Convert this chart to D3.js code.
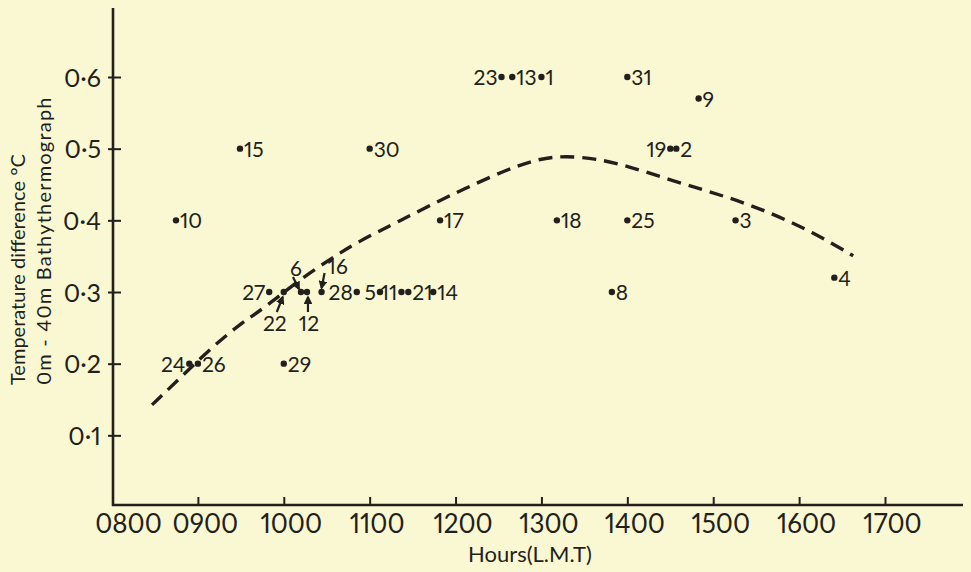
<!DOCTYPE html>
<html>
<head>
<meta charset="utf-8">
<script src="https://cdn.jsdelivr.net/npm/d3@7"></script>
<style>
  html, body { margin: 0; padding: 0; background: #faf7d3; }
  svg { display: block; }
  text { font-family: Lato, "Open Sans", sans-serif; fill: #231f1c;
         font-variant-numeric: proportional-nums; font-feature-settings: "pnum" 1; }
</style>
</head>
<body>
<svg id="chart" width="971" height="572"></svg>
<script>
// ---- data ----
const xTickValues = [8, 9, 10, 11, 12, 13, 14, 15, 16, 17];
const xTickLabels = ["0800", "0900", "1000", "1100", "1200", "1300", "1400", "1500", "1600", "1700"];
const yTickValues = [0.1, 0.2, 0.3, 0.4, 0.5, 0.6];
const yTickLabels = ["0·1", "0·2", "0·3", "0·4", "0·5", "0·6"];

const pointLabels = ["10", "15", "30", "24", "26", "29", "27", "22", "6", "12", "16", "28", "5", "11", "21", "14", "17", "18", "25", "3", "8", "4", "23", "13", "1", "31", "9", "19", "2"];
const pointHours  = [8.745, 9.49, 11.0, 8.9, 9.0, 10.0, 9.83, 10.0, 10.2, 10.27, 10.44, 10.85, 11.12, 11.37, 11.45, 11.74, 11.82, 13.18, 14.0, 15.26, 13.82, 16.41, 12.535, 12.66, 13.0, 14.0, 14.83, 14.5, 14.57];
const pointValues = [0.4, 0.5, 0.5, 0.2, 0.2, 0.2, 0.3, 0.3, 0.3, 0.3, 0.3, 0.3, 0.3, 0.3, 0.3, 0.3, 0.4, 0.4, 0.4, 0.4, 0.3, 0.32, 0.6, 0.6, 0.6, 0.6, 0.57, 0.5, 0.5];

const curveHours  = [8.466, 8.768, 9.118, 9.49, 9.78, 10.19, 10.57, 10.86, 11.33, 11.90, 12.63, 12.98, 13.27, 13.65, 14.03, 14.61, 15.16, 15.66, 16.15, 16.63];
const curveValues = [0.1425, 0.177, 0.218, 0.2556, 0.278, 0.318, 0.348, 0.370, 0.398, 0.433, 0.473, 0.486, 0.490, 0.486, 0.475, 0.452, 0.433, 0.411, 0.384, 0.3506];

const xTitle = "Hours(L.M.T)";
const yTitle1 = "Temperature difference °C";
const yTitle2 = "0m - 40m Bathythermograph";

// ---- label placement (style) ----
const labelSide = {
  "24": "left", "27": "left", "23": "left", "19": "left",
  "28": "left", "5": "left", "11": "left",
  "22": "below", "12": "below", "6": "above", "16": "aboveRight"
};
const arrowsFor = ["22", "12", "6", "16"];

// ---- layout ----
const svg = d3.select("#chart");
const ink = "#231f1c";
const x = d3.scaleLinear().domain([8, 17]).range([112, 885]);
const y = d3.scaleLinear().domain([0, 0.6]).range([507, 77]);
const axisY = 505;

// axes lines
svg.append("line").attr("x1", 112).attr("x2", 963).attr("y1", axisY).attr("y2", axisY)
  .attr("stroke", ink).attr("stroke-width", 2.6);
svg.append("line").attr("x1", 113).attr("x2", 113).attr("y1", 8).attr("y2", axisY + 1)
  .attr("stroke", ink).attr("stroke-width", 2.6);

// x axis
const xAxis = d3.axisBottom(x).tickValues(xTickValues)
  .tickFormat((d, i) => xTickLabels[i]).tickSize(0).tickPadding(0);
const gx = svg.append("g").attr("transform", `translate(0,${axisY})`).call(xAxis);
gx.select(".domain").remove();
gx.selectAll(".tick text").attr("font-size", 26).attr("dy", 0).attr("y", 28)
  .attr("dx", (d) => d === 8 ? 16 : 7).style("fill", ink);
gx.selectAll(".tick").filter(d => d !== 8).append("line")
  .attr("y1", 0).attr("y2", -8).attr("stroke", ink).attr("stroke-width", 2);

// y axis
const yAxis = d3.axisLeft(y).tickValues(yTickValues)
  .tickFormat((d, i) => yTickLabels[i]).tickSize(0).tickPadding(0);
const gy = svg.append("g").attr("transform", "translate(113,0)").call(yAxis);
gy.select(".domain").remove();
gy.selectAll(".tick text").attr("font-size", 25).attr("x", -12).attr("dy", "0.36em").style("fill", ink);
gy.selectAll(".tick").append("line")
  .attr("x1", -5).attr("x2", 8).attr("stroke", ink).attr("stroke-width", 2);

// titles
svg.append("text").attr("x", 530).attr("y", 562).attr("text-anchor", "middle")
  .attr("font-size", 22).text(xTitle);
svg.append("text").attr("transform", "translate(25,385) rotate(-90)")
  .attr("font-size", 20).text(yTitle1);
svg.append("text").attr("transform", "translate(51,385) rotate(-90)")
  .attr("font-size", 20).attr("letter-spacing", 1.2).text(yTitle2);

// dashed fitted curve
const curveData = curveHours.map((h, i) => [h, curveValues[i]]);
svg.append("path").datum(curveData)
  .attr("d", d3.line().x(d => x(d[0])).y(d => y(d[1])).curve(d3.curveBasis))
  .attr("fill", "none").attr("stroke", ink).attr("stroke-width", 3.4)
  .attr("stroke-dasharray", "14 8");

// points
const pts = pointLabels.map((l, i) => ({ label: l, h: pointHours[i], v: pointValues[i] }));
svg.append("g").selectAll("circle").data(pts).join("circle")
  .attr("cx", d => x(d.h)).attr("cy", d => y(d.v)).attr("r", 3.2).attr("fill", ink);

svg.append("g").selectAll("text").data(pts).join("text")
  .attr("font-size", 21)
  .each(function (d) {
    const t = d3.select(this);
    const cx = x(d.h), cy = y(d.v);
    const side = labelSide[d.label] || "right";
    if (side === "right") t.attr("x", cx + 4).attr("y", cy + 8).attr("text-anchor", "start");
    else if (side === "left") t.attr("x", cx - 4).attr("y", cy + 8).attr("text-anchor", "end");
    else if (side === "below") t.attr("x", cx - (d.label === "22" ? 9 : -2)).attr("y", cy + 39).attr("text-anchor", "middle");
    else if (side === "above") t.attr("x", cx - 5).attr("y", cy - 16).attr("text-anchor", "middle");
    else if (side === "aboveRight") t.attr("x", cx + 6).attr("y", cy - 18).attr("text-anchor", "start");
  })
  .text(d => d.label);

// small pointer arrows
const defs = svg.append("defs");
defs.append("marker").attr("id", "ah").attr("viewBox", "0 0 10 10").attr("refX", 8).attr("refY", 5)
  .attr("markerWidth", 4).attr("markerHeight", 4).attr("orient", "auto")
  .append("path").attr("d", "M0,0 L10,5 L0,10 Z").attr("fill", ink);
const arrowOffsets = {
  "22": [[-7, 20], [-1, 5]],
  "12": [[1, 20], [1, 5]],
  "6":  [[-8, -15], [-2, -3]],
  "16": [[3, -19], [0, -4]]
};
pts.filter(d => arrowsFor.includes(d.label)).forEach(d => {
  const o = arrowOffsets[d.label];
  svg.append("line")
    .attr("x1", x(d.h) + o[0][0]).attr("y1", y(d.v) + o[0][1])
    .attr("x2", x(d.h) + o[1][0]).attr("y2", y(d.v) + o[1][1])
    .attr("stroke", ink).attr("stroke-width", 2.2)
    .attr("marker-end", "url(#ah)");
});
</script>
</body>
</html>
